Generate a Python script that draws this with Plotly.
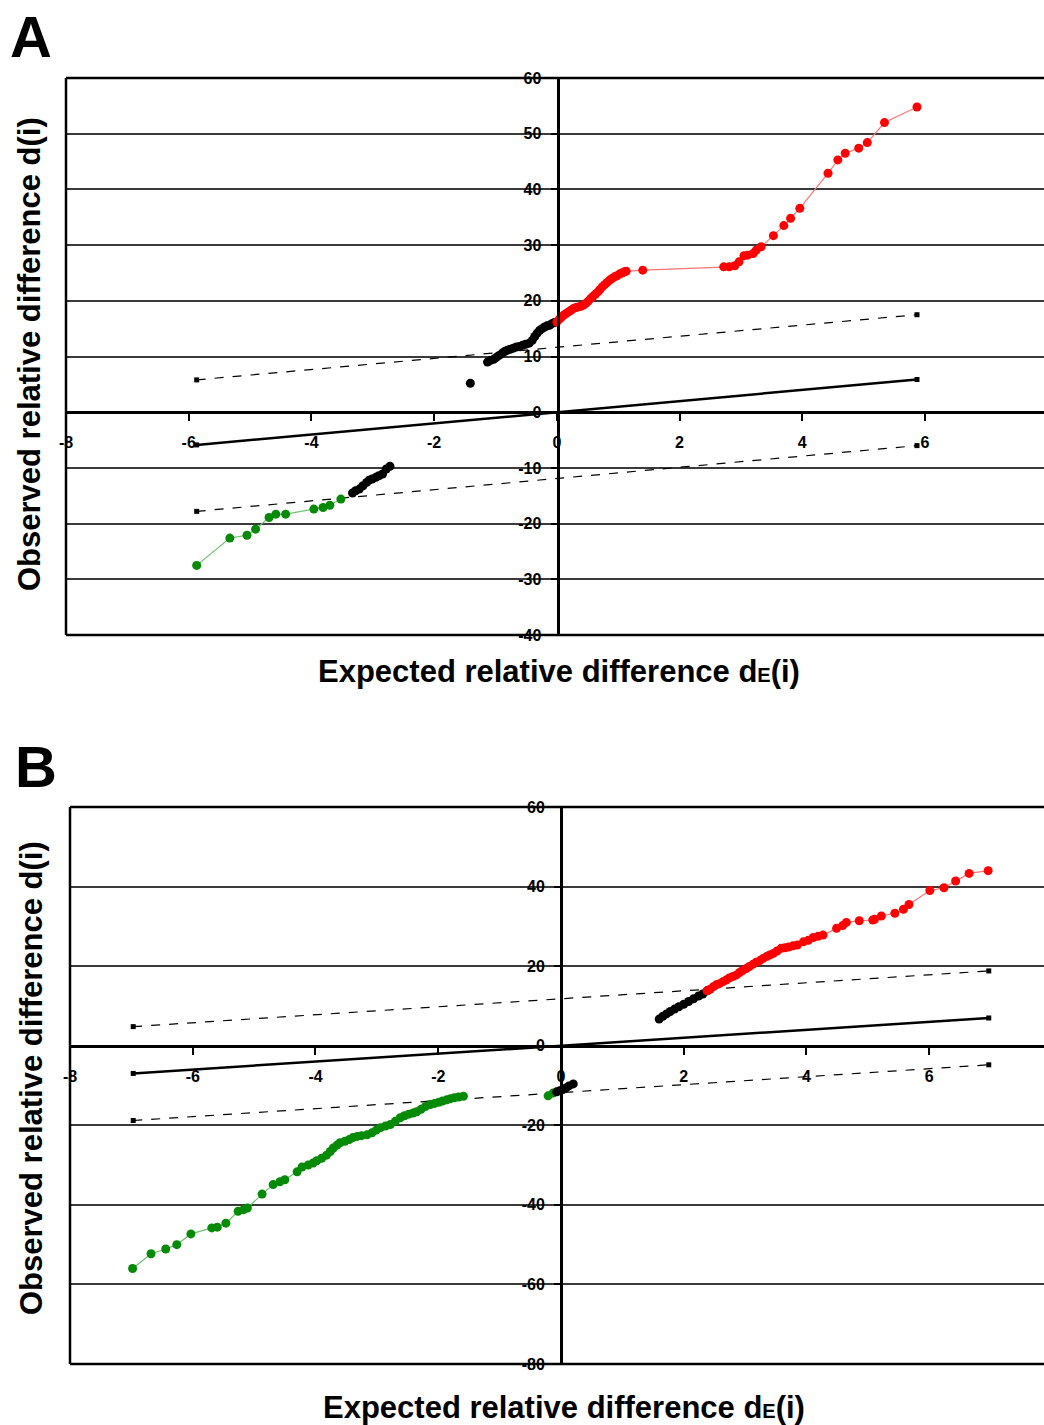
import plotly.graph_objects as go

W, H = 1044, 1425

# ---------------- Panel A data ----------------
red_a_x = [0.00, 0.04, 0.07, 0.11, 0.15, 0.19, 0.23, 0.27, 0.31, 0.35, 0.39, 0.43, 0.47, 0.51, 0.55,
           0.59, 0.63, 0.67, 0.70, 0.74, 0.78, 0.82, 0.86, 0.90, 0.94, 0.98, 1.02, 1.06, 1.10, 1.13,
           1.40, 2.72, 2.81, 2.90, 2.97, 3.05, 3.11, 3.20, 3.25, 3.33, 3.53, 3.70, 3.81, 3.96, 4.42,
           4.58, 4.70, 4.92, 5.06, 5.34, 5.87]
red_a_y = [16.2, 16.7, 17.0, 17.4, 17.7, 18.0, 18.3, 18.6, 18.8, 18.9, 19.0, 19.2, 19.5, 19.9, 20.4,
           20.8, 21.2, 21.6, 22.0, 22.5, 22.9, 23.3, 23.7, 24.0, 24.3, 24.5, 24.8, 25.0, 25.2, 25.3,
           25.5, 26.1, 26.1, 26.3, 27.0, 28.1, 28.2, 28.5, 29.1, 29.7, 31.7, 33.5, 34.8, 36.6, 42.9,
           45.3, 46.5, 47.4, 48.4, 52.0, 54.8]

black_a_up_x = [-1.13, -1.08, -1.03, -0.99, -0.94, -0.89, -0.85, -0.81, -0.76, -0.71, -0.66, -0.61, -0.56,
                -0.51, -0.45, -0.40, -0.36, -0.32, -0.28, -0.24, -0.20, -0.16, -0.12, -0.08, -0.04]
black_a_up_y = [9.0, 9.3, 9.5, 9.8, 10.2, 10.6, 10.9, 11.1, 11.3, 11.5, 11.7, 11.8, 12.0,
                12.2, 12.4, 12.9, 13.6, 14.2, 14.7, 15.0, 15.3, 15.5, 15.6, 15.9, 16.1]
black_a_out_x = [-1.41]
black_a_out_y = [5.2]
black_a_low_x = [-3.33, -3.28, -3.22, -3.16, -3.10, -3.06, -3.01, -2.95, -2.90, -2.84, -2.78, -2.72]
black_a_low_y = [-14.5, -14.1, -13.8, -13.2, -12.6, -12.2, -12.0, -11.7, -11.4, -11.1, -10.2, -9.7]

green_a_x = [-5.87, -5.33, -5.05, -4.91, -4.69, -4.58, -4.42, -3.96, -3.81, -3.70, -3.52]
green_a_y = [-27.5, -22.6, -22.1, -21.0, -18.9, -18.3, -18.3, -17.4, -17.1, -16.7, -15.6]

cut_a_x = [-5.87, 5.87]
mid_a_y = [-5.87, 5.87]
upper_a_y = [5.8, 17.5]
lower_a_y = [-17.8, -6.0]

# ---------------- Panel B data ----------------
red_b_x = [2.38, 2.43, 2.48, 2.53, 2.58, 2.64, 2.69, 2.74, 2.80, 2.86, 2.91, 2.96, 3.02, 3.07, 3.13,
           3.18, 3.24, 3.29, 3.35, 3.40, 3.46, 3.52, 3.59, 3.65, 3.71, 3.78, 3.85, 3.95, 4.03, 4.11,
           4.19, 4.27, 4.49, 4.59, 4.65, 4.86, 5.08, 5.11, 5.22, 5.44, 5.58, 5.67, 6.01, 6.24, 6.43,
           6.65, 6.96]
red_b_y = [13.8, 14.2, 14.8, 15.3, 15.6, 16.1, 16.5, 17.0, 17.4, 17.8, 18.4, 18.9, 19.4, 19.9, 20.5,
           21.0, 21.4, 21.9, 22.4, 22.8, 23.2, 23.8, 24.5, 24.6, 24.8, 25.1, 25.3, 26.1, 26.5, 27.2,
           27.5, 27.8, 29.5, 30.2, 31.0, 31.4, 31.6, 31.8, 32.6, 33.3, 34.3, 35.5, 39.0, 39.7, 41.4,
           43.3, 44.0]

black_b_up_x = [1.60, 1.66, 1.72, 1.78, 1.85, 1.92, 2.00, 2.08, 2.16, 2.24, 2.31, 2.38]
black_b_up_y = [6.7, 7.4, 8.0, 8.6, 9.2, 9.8, 10.4, 11.1, 11.8, 12.5, 13.0, 13.8]
black_b_mid_x = [-0.07, -0.02, 0.03, 0.08, 0.13, 0.20]
black_b_mid_y = [-11.6, -11.3, -11.0, -10.6, -10.1, -9.6]

green_b_x = [-6.98, -6.68, -6.44, -6.26, -6.03, -5.69, -5.60, -5.46, -5.26, -5.17, -5.11, -4.87, -4.69,
             -4.58, -4.50, -4.30, -4.22, -4.12, -4.04, -3.98, -3.90, -3.82, -3.76, -3.71, -3.65, -3.60,
             -3.52, -3.45, -3.39, -3.32, -3.25, -3.16, -3.08, -3.01, -2.94, -2.86, -2.78, -2.70, -2.62,
             -2.55, -2.48, -2.41, -2.35, -2.28, -2.21, -2.13, -2.06, -1.99, -1.93, -1.86, -1.80, -1.74,
             -1.67, -1.59]
green_b_y = [-56.0, -52.3, -51.1, -50.0, -47.3, -45.8, -45.6, -44.6, -41.6, -41.2, -40.8, -37.3, -34.9,
             -34.2, -33.7, -31.7, -30.5, -30.0, -29.5, -28.9, -28.3, -27.5, -26.6, -25.7, -25.0, -24.4,
             -24.0, -23.6, -23.1, -22.8, -22.6, -22.4, -21.9, -21.2, -20.6, -20.2, -19.8, -19.0, -18.1,
             -17.6, -17.2, -16.9, -16.6, -16.0, -15.3, -14.8, -14.5, -14.2, -13.9, -13.6, -13.3, -13.1,
             -12.9, -12.7]
green_b2_x = [-0.21, -0.13]
green_b2_y = [-12.6, -11.9]

cut_b_x = [-6.97, 6.97]
mid_b_y = [-6.97, 6.97]
upper_b_y = [4.8, 18.8]
lower_b_y = [-18.8, -4.8]

# tick labels
xticks = [-8, -6, -4, -2, 0, 2, 4, 6]
yticks_a = [-40, -30, -20, -10, 0, 10, 20, 30, 40, 50, 60]
yticks_b = [-80, -60, -40, -20, 0, 20, 40, 60]

RED, RED_L = "#ff0000", "#ff7575"
GREEN, GREEN_L = "#048a04", "#6fc06f"
FONT = "Liberation Sans, Arial, sans-serif"


def px(x):
    return x / W


def py(y):
    return 1 - y / H


fig = go.Figure()


def add_panel(xa, ya, cut_x, mid_y, up_y, lo_y, series):
    fig.add_trace(go.Scatter(x=cut_x, y=mid_y, mode="lines+markers", xaxis=xa, yaxis=ya,
                             line=dict(color="black", width=2.5),
                             marker=dict(symbol="square", size=5, color="black")))
    for yy in (up_y, lo_y):
        fig.add_trace(go.Scatter(x=cut_x, y=yy, mode="lines+markers", xaxis=xa, yaxis=ya,
                                 line=dict(color="black", width=1.2, dash="dash"),
                                 marker=dict(symbol="square", size=5, color="black")))
    for sx, sy, mc, lc, mode in series:
        fig.add_trace(go.Scatter(x=sx, y=sy, mode=mode, xaxis=xa, yaxis=ya,
                                 line=dict(color=lc, width=1.2),
                                 marker=dict(size=9, color=mc)))


add_panel("x", "y", cut_a_x, mid_a_y, upper_a_y, lower_a_y, [
    (green_a_x, green_a_y, GREEN, GREEN_L, "lines+markers"),
    (black_a_low_x, black_a_low_y, "black", "black", "lines+markers"),
    (black_a_out_x, black_a_out_y, "black", "black", "markers"),
    (black_a_up_x, black_a_up_y, "black", "black", "lines+markers"),
    (red_a_x, red_a_y, RED, RED_L, "lines+markers"),
])
add_panel("x2", "y2", cut_b_x, mid_b_y, upper_b_y, lower_b_y, [
    (green_b_x, green_b_y, GREEN, GREEN_L, "lines+markers"),
    (green_b2_x, green_b2_y, GREEN, GREEN_L, "lines+markers"),
    (black_b_mid_x, black_b_mid_y, "black", "black", "lines+markers"),
    (black_b_up_x, black_b_up_y, "black", "black", "lines+markers"),
    (red_b_x, red_b_y, RED, RED_L, "lines+markers"),
])

tickfont = dict(family=FONT, size=16, color="black", weight="bold")


def xax(dom_left, rng, ypix):
    return dict(domain=[px(dom_left), 1], range=rng, anchor="free", position=py(ypix),
                showline=True, linewidth=3, linecolor="black", ticks="outside", ticklen=7,
                tickwidth=2, tickcolor="black", tickvals=xticks, ticktext=[str(v) for v in xticks],
                tickfont=tickfont, showgrid=False, zeroline=False, automargin=False,
                ticklabelstandoff=8, fixedrange=True)


def yax(top, bottom, rng, vals, xpix):
    return dict(domain=[py(bottom), py(top)], range=rng, anchor="free", position=px(xpix),
                showline=True, linewidth=3, linecolor="black", ticks="outside", ticklen=6,
                tickwidth=2, tickcolor="black", tickvals=vals, ticktext=[str(v) for v in vals],
                tickfont=tickfont, showgrid=True, gridcolor="#3a3a3a", gridwidth=1.6,
                zeroline=False, automargin=False, ticklabelstandoff=6, fixedrange=True)


fig.update_layout(
    width=W, height=H, template="none", showlegend=False,
    paper_bgcolor="white", plot_bgcolor="white",
    margin=dict(l=0, r=0, t=0, b=0),
    xaxis=xax(66, [-8, 7.94], 412.2),
    yaxis=yax(78, 635, [-40, 60], yticks_a, 557.5),
    xaxis2=xax(70, [-8, 7.87], 1045.7),
    yaxis2=yax(807, 1364, [-80, 60], yticks_b, 561),
    hovermode=False,
)

# frames (left, top, bottom)
for xa, ya in (("x", "y"), ("x2", "y2")):
    for (x0, y0, x1, y1) in ((0, 0, 0, 1), (0, 1, 1, 1), (0, 0, 1, 0)):
        fig.add_shape(type="line", xref=f"{xa} domain", yref=f"{ya} domain",
                      x0=x0, y0=y0, x1=x1, y1=y1, line=dict(color="black", width=2.5))


def ann(text, cx, cy, size, angle=0):
    fig.add_annotation(text=text, x=px(cx), y=py(cy), xref="paper", yref="paper",
                       xanchor="center", yanchor="middle", showarrow=False, textangle=angle,
                       font=dict(family=FONT, size=size, color="black", weight="bold"))


ann("A", 31, 37, 58)
ann("B", 36, 766, 58)
ytitle = "Observed relative difference d(i)"
xtitle = "Expected relative difference d<span style='font-size:20px'>E</span>(i)"
ann(ytitle, 29, 354, 31, -90)
ann(ytitle, 31, 1078, 31, -90)
ann(xtitle, 559, 671, 31)
ann(xtitle, 564, 1407, 31)

fig.write_html(
    "out.html",
    config={"displayModeBar": False},
    post_script="document.body.style.margin='0';document.body.style.overflow='hidden';",
)
